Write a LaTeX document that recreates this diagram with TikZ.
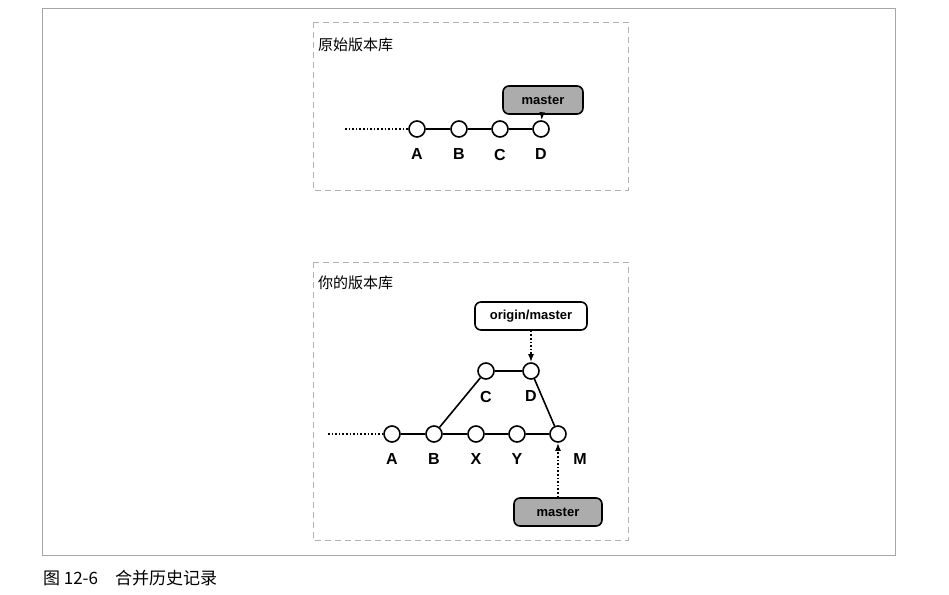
\documentclass[tikz,border=0pt]{standalone}
\usepackage{fontspec}
\setmainfont{Liberation Sans}
\newfontfamily\cjk{Noto Sans CJK SC}
\usetikzlibrary{positioning,arrows.meta}

\begin{document}
\begin{tikzpicture}[x=0.5pt,y=-0.5pt,
    commit/.style={circle, draw, thick, fill=white, minimum size=8pt, inner sep=0pt},
    clabel/.style={font=\fontsize{8}{9}\selectfont\bfseries},
    branch/.style={rectangle, rounded corners=3pt, draw, thick, minimum width=40pt, minimum height=14pt, font=\fontsize{6.5}{8}\selectfont\bfseries},
    headbranch/.style={branch, fill=gray!65},
    ref/.style={-{Latex[length=4pt]}, thick, densely dotted},
    panel/.style={draw=gray!60, densely dashed},
    title/.style={font=\cjk\fontsize{7.5}{9}\selectfont, anchor=west}
]
\useasboundingbox (0,0) rectangle (949,595);

% Frame and caption
\draw[gray!70] (42,8) rectangle (895,555);
\node[font=\cjk\fontsize{8.5}{10}\selectfont, anchor=west] (caption) at (36,578) {图 12-6\quad 合并历史记录};

% Original repository
\draw[panel] (313,22) rectangle (628,190);
\node[title] (t1) at (311,45) {原始版本库};
\node[commit] (oA) at (417,129) {};
\node[commit] (oB) at (459,129) {};
\node[commit] (oC) at (500,129) {};
\node[commit] (oD) at (541,129) {};
\coordinate (oS) at (345,129);
\draw[thick, densely dotted] (oS) -- (oA);
\draw[thick] (oA) -- (oB) -- (oC) -- (oD);
\foreach \c/\t in {oA/A, oB/B, oC/C, oD/D}
    \node[clabel, below=2pt of \c] {\t};
\node[headbranch] (omaster) at (543,100) {master};
\draw[ref] (omaster) -- (oD);

% Your repository
\draw[panel] (313,262) rectangle (628,540);
\node[title] (t2) at (311,283) {你的版本库};
\node[commit] (yA) at (392,434) {};
\node[commit] (yB) at (434,434) {};
\node[commit] (yX) at (476,434) {};
\node[commit] (yY) at (517,434) {};
\node[commit] (yM) at (558,434) {};
\node[commit] (yC) at (486,371) {};
\node[commit] (yD) at (531,371) {};
\coordinate (yS) at (328,434);
\draw[thick, densely dotted] (yS) -- (yA);
\draw[thick] (yA) -- (yB) -- (yX) -- (yY) -- (yM);
\draw[thick] (yB) -- (yC) -- (yD) -- (yM);
\foreach \c/\t in {yA/A, yB/B, yX/X, yY/Y, yC/C, yD/D}
    \node[clabel, below=2pt of \c] {\t};
\node[clabel, below right=3pt and 1pt of yM] {M};
\node[branch, minimum width=56pt] (origin) at (531,316) {origin/master};
\draw[ref] (origin) -- (yD);
\node[headbranch, minimum width=44pt] (ymaster) at (558,512) {master};
\draw[ref] (ymaster) -- (yM);
\end{tikzpicture}
\end{document}
